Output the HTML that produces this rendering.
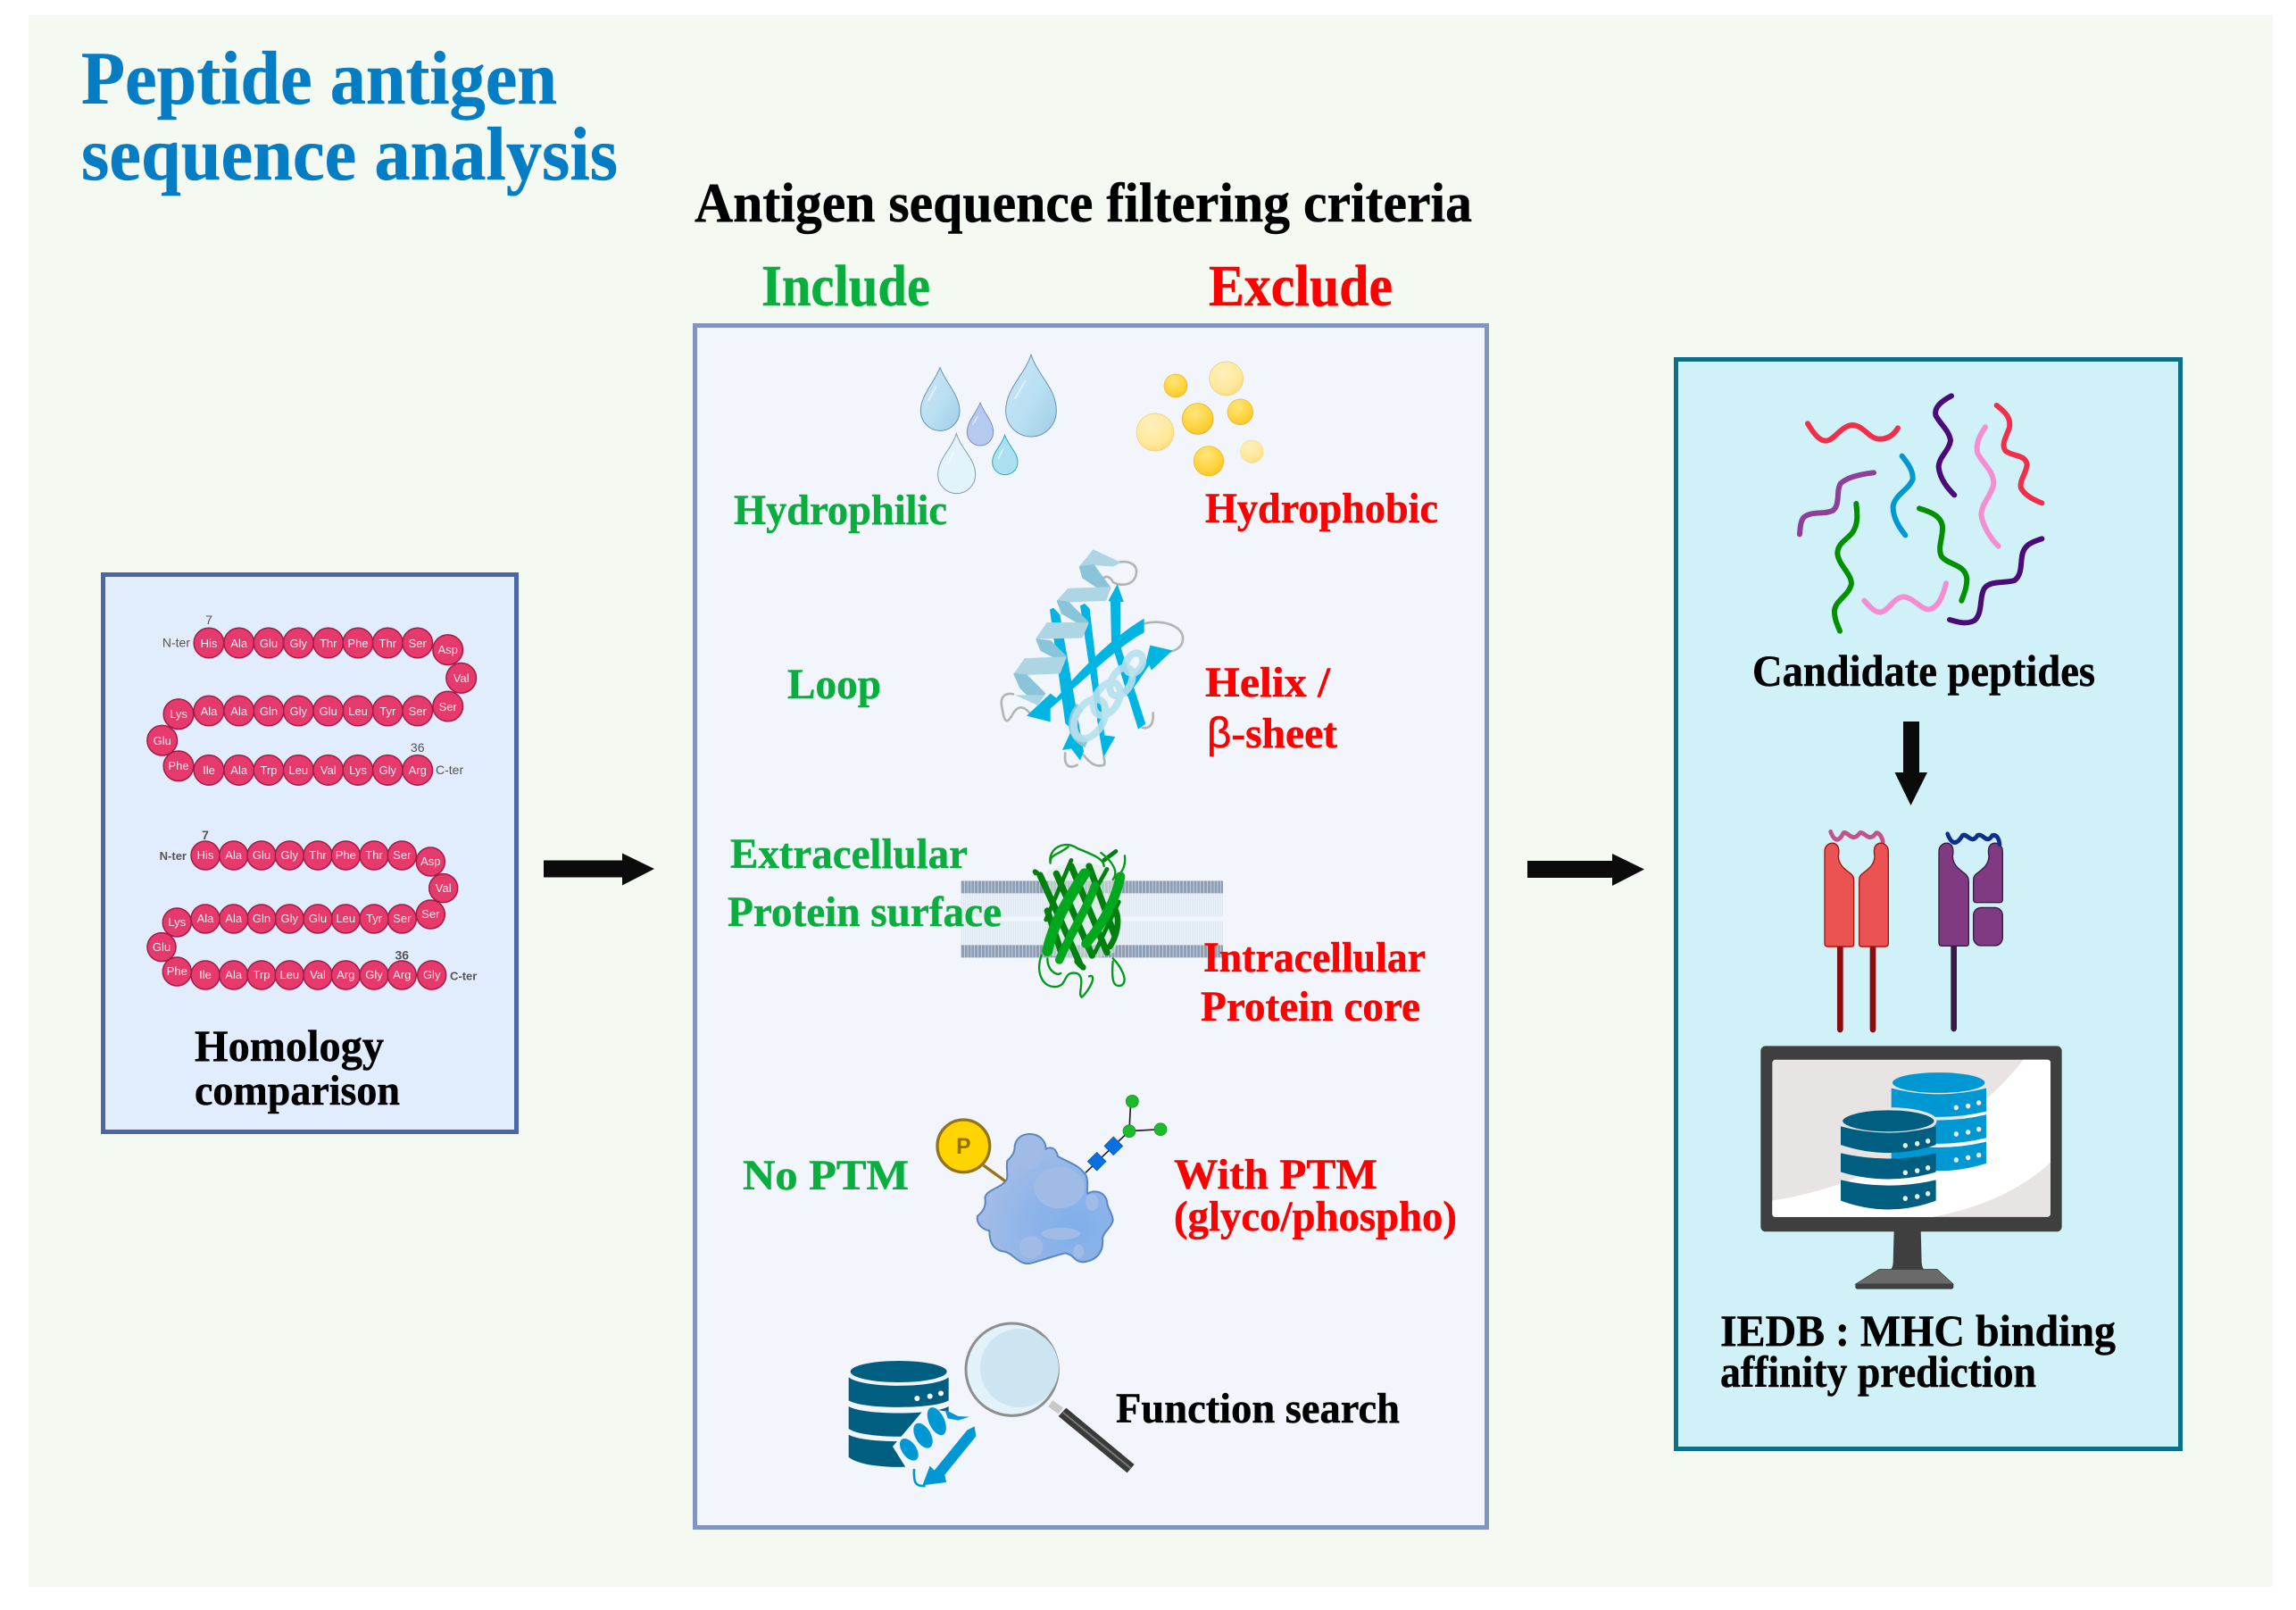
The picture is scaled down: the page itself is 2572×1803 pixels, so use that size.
<!DOCTYPE html>
<html lang="en"><head><meta charset="utf-8"><title>Peptide antigen sequence analysis</title>
<style>
html,body{margin:0;padding:0;background:#fff;width:2572px;height:1803px;overflow:hidden}
svg{display:block}
.t{font-family:"Liberation Serif",serif;font-weight:700;stroke-width:.5}
.g{fill:#0aae3f;stroke:#0aae3f}.r{fill:#ff0000;stroke:#ff0000}.k{fill:#000;stroke:#000}.b{fill:#057dc5;stroke:#057dc5}
.a text{font-family:"Liberation Sans",sans-serif;font-size:13px;fill:#fdeaf0;text-anchor:middle}
.a circle{fill:#e73a6c;stroke:#a11c47;stroke-width:1.5}
.n{font-family:"Liberation Sans",sans-serif;font-size:14px;fill:#555}
.p path{fill:none;stroke-width:18;stroke-linecap:round;stroke-linejoin:round}
</style></head><body>
<svg xmlns="http://www.w3.org/2000/svg" width="2572" height="1803" viewBox="0 0 2572 1803">
<defs>
<radialGradient id="ya" cx=".4" cy=".3" r=".75"><stop offset="0" stop-color="#ffe77e"/><stop offset=".6" stop-color="#ffd53f"/><stop offset="1" stop-color="#f7c525"/></radialGradient>
<radialGradient id="yb" cx=".4" cy=".3" r=".75"><stop offset="0" stop-color="#fff0bb"/><stop offset=".7" stop-color="#fde89a"/><stop offset="1" stop-color="#f8db80"/></radialGradient>
<linearGradient id="d1" x1="0" y1="0" x2="1" y2="1"><stop offset="0" stop-color="#c9e6f5"/><stop offset=".55" stop-color="#b9dff2"/><stop offset="1" stop-color="#9fcde6"/></linearGradient>
<radialGradient id="bl" cx=".72" cy=".72" r=".65"><stop offset="0" stop-color="#7fafea"/><stop offset=".55" stop-color="#8fb4e9"/><stop offset="1" stop-color="#a0bbe6"/></radialGradient>
</defs>
<rect width="2572" height="1803" fill="#fff"/>
<rect x="32" y="17" width="2514" height="1760" fill="#f4f9f2"/>

<rect x="115.5" y="643.5" width="463" height="624" fill="#e1ecfd" stroke="#4a65a8" stroke-width="5"/>
<rect x="778.5" y="364.5" width="887" height="1346" fill="#f2f6fc" stroke="#8295bf" stroke-width="5"/>
<rect x="1877.5" y="402.5" width="565" height="1220" fill="#cff1f7" stroke="#0b6f88" stroke-width="5"/>

<text class="t b" x="91" y="116" font-size="85" textLength="533" lengthAdjust="spacingAndGlyphs">Peptide antigen</text>
<text class="t b" x="91" y="201" font-size="85" textLength="601" lengthAdjust="spacingAndGlyphs">sequence analysis</text>
<text class="t k" x="778" y="248" font-size="62" textLength="871" lengthAdjust="spacingAndGlyphs">Antigen sequence filtering criteria</text>
<text class="t g" x="853" y="342" font-size="66" textLength="189" lengthAdjust="spacingAndGlyphs">Include</text>
<text class="t r" x="1354" y="342" font-size="66" textLength="206" lengthAdjust="spacingAndGlyphs">Exclude</text>

<!-- arrows -->
<path d="M609 963.5H697V955.5L733 973L697 991.5V982.5H609Z" fill="#0b0b0b"/>
<path d="M1711 964H1806V956L1842 973.5L1806 992V983H1711Z" fill="#0b0b0b"/>
<path d="M2132 808H2150V865H2159L2140.5 902L2122.500 865H2132Z" fill="#0b0b0b"/>

<!-- peptide chain 1 -->
<g class="a">
<circle cx="234" cy="720" r="16.8"/><circle cx="267.700" cy="720" r="16.8"/><circle cx="301" cy="720" r="16.8"/><circle cx="334.300" cy="720" r="16.8"/><circle cx="367.700" cy="720" r="16.8"/><circle cx="401" cy="720" r="16.8"/><circle cx="434.300" cy="720" r="16.8"/><circle cx="467.700" cy="720" r="16.8"/>
<circle cx="501.700" cy="727.700" r="16.8"/><circle cx="516.700" cy="759.300" r="16.8"/><circle cx="501.700" cy="791" r="16.8"/>
<circle cx="467.700" cy="796" r="16.8"/><circle cx="434.300" cy="796" r="16.8"/><circle cx="401" cy="796" r="16.8"/><circle cx="367.700" cy="796" r="16.8"/><circle cx="334.300" cy="796" r="16.8"/><circle cx="301" cy="796" r="16.8"/><circle cx="267.700" cy="796" r="16.8"/><circle cx="234" cy="796" r="16.8"/>
<circle cx="200" cy="799.700" r="16.8"/><circle cx="181.700" cy="829.200" r="16.8"/><circle cx="200" cy="857.800" r="16.8"/>
<circle cx="234" cy="862.400" r="16.8"/><circle cx="267.700" cy="862.400" r="16.8"/><circle cx="301" cy="862.400" r="16.8"/><circle cx="334.300" cy="862.400" r="16.8"/><circle cx="367.700" cy="862.400" r="16.8"/><circle cx="401" cy="862.400" r="16.8"/><circle cx="434.300" cy="862.400" r="16.8"/><circle cx="467.700" cy="862.400" r="16.8"/>
<text x="234" y="725">His</text><text x="267.700" y="725">Ala</text><text x="301" y="725">Glu</text><text x="334.300" y="725">Gly</text><text x="367.700" y="725">Thr</text><text x="401" y="725">Phe</text><text x="434.300" y="725">Thr</text><text x="467.700" y="725">Ser</text>
<text x="501.700" y="732">Asp</text><text x="516.700" y="764">Val</text><text x="501.700" y="796">Ser</text>
<text x="467.700" y="801">Ser</text><text x="434.300" y="801">Tyr</text><text x="401" y="801">Leu</text><text x="367.700" y="801">Glu</text><text x="334.300" y="801">Gly</text><text x="301" y="801">Gln</text><text x="267.700" y="801">Ala</text><text x="234" y="801">Ala</text>
<text x="200" y="804">Lys</text><text x="181.700" y="834">Glu</text><text x="200" y="862">Phe</text>
<text x="234" y="867">Ile</text><text x="267.700" y="867">Ala</text><text x="301" y="867">Trp</text><text x="334.300" y="867">Leu</text><text x="367.700" y="867">Val</text><text x="401" y="867">Lys</text><text x="434.300" y="867">Gly</text><text x="467.700" y="867">Arg</text>
</g>
<text class="n" x="234" y="699" text-anchor="middle">7</text>
<text class="n" x="467.700" y="842" text-anchor="middle">36</text>
<text class="n" x="213" y="724.500" text-anchor="end">N-ter</text>
<text class="n" x="488" y="867">C-ter</text>

<!-- peptide chain 2 -->
<g class="a">
<circle cx="230" cy="958" r="16"/><circle cx="261.700" cy="958" r="16"/><circle cx="293" cy="958" r="16"/><circle cx="324.300" cy="958" r="16"/><circle cx="356" cy="958" r="16"/><circle cx="387.300" cy="958" r="16"/><circle cx="419" cy="958" r="16"/><circle cx="450.300" cy="958" r="16"/>
<circle cx="482.300" cy="965" r="16"/><circle cx="496.700" cy="994.600" r="16"/><circle cx="482.300" cy="1024" r="16"/>
<circle cx="450.300" cy="1029" r="16"/><circle cx="419" cy="1029" r="16"/><circle cx="387.300" cy="1029" r="16"/><circle cx="356" cy="1029" r="16"/><circle cx="324.300" cy="1029" r="16"/><circle cx="293" cy="1029" r="16"/><circle cx="261.700" cy="1029" r="16"/><circle cx="230" cy="1029" r="16"/>
<circle cx="198.300" cy="1033" r="16"/><circle cx="181" cy="1060.600" r="16"/><circle cx="198.300" cy="1088" r="16"/>
<circle cx="230" cy="1092" r="16"/><circle cx="261.700" cy="1092" r="16"/><circle cx="293" cy="1092" r="16"/><circle cx="324.300" cy="1092" r="16"/><circle cx="356" cy="1092" r="16"/><circle cx="387.300" cy="1092" r="16"/><circle cx="419" cy="1092" r="16"/><circle cx="450.300" cy="1092" r="16"/><circle cx="483.700" cy="1092" r="16"/>
<text x="230" y="962">His</text><text x="261.700" y="962">Ala</text><text x="293" y="962">Glu</text><text x="324.300" y="962">Gly</text><text x="356" y="962">Thr</text><text x="387.300" y="962">Phe</text><text x="419" y="962">Thr</text><text x="450.300" y="962">Ser</text>
<text x="482.300" y="969">Asp</text><text x="496.700" y="999">Val</text><text x="482.300" y="1028">Ser</text>
<text x="450.300" y="1033">Ser</text><text x="419" y="1033">Tyr</text><text x="387.300" y="1033">Leu</text><text x="356" y="1033">Glu</text><text x="324.300" y="1033">Gly</text><text x="293" y="1033">Gln</text><text x="261.700" y="1033">Ala</text><text x="230" y="1033">Ala</text>
<text x="198.300" y="1037">Lys</text><text x="181" y="1065">Glu</text><text x="198.300" y="1092">Phe</text>
<text x="230" y="1096">Ile</text><text x="261.700" y="1096">Ala</text><text x="293" y="1096">Trp</text><text x="324.300" y="1096">Leu</text><text x="356" y="1096">Val</text><text x="387.300" y="1096">Arg</text><text x="419" y="1096">Gly</text><text x="450.300" y="1096">Arg</text><text x="483.700" y="1096">Gly</text>
</g>
<text class="n" x="230" y="940" text-anchor="middle" font-weight="700" fill="#444">7</text>
<text class="n" x="450.300" y="1074.500" text-anchor="middle" font-weight="700" fill="#444">36</text>
<text class="n" x="209" y="963" text-anchor="end" font-weight="700" style="font-size:13px" fill="#444">N-ter</text>
<text class="n" x="504" y="1097.700" font-weight="700" style="font-size:13px" fill="#444">C-ter</text>

<text class="t k" x="218" y="1188" font-size="50" textLength="212" lengthAdjust="spacingAndGlyphs">Homology</text>
<text class="t k" x="218" y="1237" font-size="48" textLength="230" lengthAdjust="spacingAndGlyphs">comparison</text>

<!-- droplets, oil, structure -->
<g transform="translate(980,370) scale(.33333)">
<g stroke-width="3">
<path d="M219 125C240 178 285 218 285 270A65.500 67 0 0 1 154 270C154 218 198 178 219 125Z" fill="url(#d1)" stroke="#6a94ad"/>
<path d="M525 82C550 155 610 195 610 270A85 87 0 0 1 440 270C440 195 500 155 525 82Z" fill="url(#d1)" stroke="#6d92b3"/>
<path d="M354 243C368 280 398 305 398 342A44 45 0 0 1 310 342C310 305 340 280 354 243Z" fill="#b6c9ee" stroke="#7d8fc1"/>
<path d="M274 347C290 400 338 430 338 485A63 63 0 0 1 212 485C212 430 258 400 274 347Z" fill="#e2f3fb" stroke="#7e9fae"/>
<path d="M437 352C450 390 480 410 480 443A42.500 42 0 0 1 395 443C395 410 424 390 437 352Z" fill="#abe0f0" stroke="#22a8c8"/>
</g>
<g fill="none" stroke="#fff" stroke-opacity=".6" stroke-width="5" stroke-linecap="round"><path d="M205 190L180 235M505 170L472 228M345 290L330 315M265 410L245 450M430 400L415 430"/></g>
<g stroke-width="2">
<circle cx="942" cy="342" r="63" fill="url(#yb)" stroke="#eccd70"/><circle cx="1181" cy="162" r="57" fill="url(#yb)" stroke="#eccd70"/><circle cx="1267" cy="407" r="38" fill="url(#yb)" stroke="#f0dc98"/>
<circle cx="1011" cy="186" r="39" fill="url(#ya)" stroke="#e7b52b"/><circle cx="1085" cy="297" r="52" fill="url(#ya)" stroke="#d8a92a"/><circle cx="1228" cy="274" r="43" fill="url(#ya)" stroke="#e7b52b"/><circle cx="1122" cy="439" r="50" fill="url(#ya)" stroke="#e7b52b"/>
</g>
<g fill="none" stroke="#b4b4b4" stroke-width="8" stroke-linecap="round">
<path d="M815 780C860 770 885 790 878 820C870 860 820 860 800 845C790 825 775 825 770 832"/>
<path d="M905 985C960 970 1030 990 1035 1030C1038 1060 1015 1075 990 1080"/>
<path d="M465 1222C430 1215 420 1240 428 1270C435 1320 445 1320 460 1295C475 1265 495 1255 520 1285"/>
<path d="M640 1420C635 1460 650 1475 680 1460M700 1425C720 1450 740 1470 770 1460C775 1450 770 1440 770 1435M900 1335C925 1340 938 1320 935 1285"/>
</g>
<g fill="#00b5e2">
<path d="M588 938L600 932L622 955L702 1415L690 1445L660 1405L630 1410L662 1340L640 1320Z"/>
<path d="M690 925L705 918L722 935L772 1360L808 1365L768 1435L755 1360Z"/>
<path d="M792 912L785 908L815 852L836 912L825 912L825 1060L910 1322L885 1340L795 1050Z"/>
</g>
<g stroke-width="7" stroke-linejoin="round">
<path d="M690 795L735 740L820 780L800 790L730 785L700 795Z" fill="#add5e3" stroke="#add5e3"/>
<path d="M690 795L735 790L790 865L760 870L700 830Z" fill="#8ac4d8" stroke="#8ac4d8"/>
<path d="M615 910L650 870L790 865L775 905L650 910Z" fill="#add5e3" stroke="#add5e3"/>
<path d="M615 910L650 915L715 980L690 985L630 950Z" fill="#8ac4d8" stroke="#8ac4d8"/>
<path d="M545 1035L580 985L715 985L695 1030L560 1033Z" fill="#add5e3" stroke="#add5e3"/>
<path d="M545 1040L590 1045L640 1095L620 1105L560 1075Z" fill="#8ac4d8" stroke="#8ac4d8"/>
<path d="M470 1155L505 1105L640 1100L620 1150L490 1155Z" fill="#add5e3" stroke="#add5e3"/>
<path d="M470 1155L510 1160L570 1220L545 1255L490 1200Z" fill="#8ac4d8" stroke="#8ac4d8"/>
<path d="M470 1225L570 1225L545 1258Z" fill="#add5e3"/>
</g>
<path d="M905 968V1015C820 1060 720 1160 590 1270V1315L510 1295L590 1220L610 1235C700 1130 800 1030 905 968Z" fill="#00b5e2"/>
<path d="M830 1210L912 1110L925 1058L1000 1075L930 1142L922 1125L850 1230Z" fill="#00b5e2"/>
<path d="M690 1265C655 1300 655 1365 712 1388" fill="none" stroke="#8ac4d8" stroke-width="30"/>
<g fill="none" stroke="#b6e0ee" stroke-width="24" opacity=".9">
<ellipse cx="722" cy="1305" rx="46" ry="72" transform="rotate(30 722 1305)"/>
<ellipse cx="780" cy="1238" rx="38" ry="60" transform="rotate(30 780 1238)"/>
<ellipse cx="828" cy="1180" rx="32" ry="52" transform="rotate(30 828 1180)"/>
<ellipse cx="872" cy="1118" rx="26" ry="36" transform="rotate(30 872 1118)"/>
</g>
</g>

<text class="t g" x="822" y="587" font-size="48" textLength="239" lengthAdjust="spacingAndGlyphs">Hydrophilic</text>
<text class="t r" x="1350" y="585" font-size="48" textLength="261" lengthAdjust="spacingAndGlyphs">Hydrophobic</text>
<text class="t g" x="882" y="782" font-size="48" textLength="105" lengthAdjust="spacingAndGlyphs">Loop</text>
<text class="t r" x="1350" y="780" font-size="48" textLength="140" lengthAdjust="spacingAndGlyphs">Helix /</text>
<text class="t r" x="1352" y="837" font-size="48" textLength="146" lengthAdjust="spacingAndGlyphs"><tspan font-family="Liberation Sans" font-weight="400">β</tspan>-sheet</text>

<!-- membrane + barrel, blob -->
<g transform="translate(1040,920) scale(.33333)">
<line x1="110" y1="280" x2="990" y2="280" stroke="#d6e4f3" stroke-width="80" stroke-dasharray="3 3"/>
<line x1="110" y1="375" x2="990" y2="375" stroke="#d6e4f3" stroke-width="80" stroke-dasharray="3 3"/>
<line x1="110" y1="220" x2="990" y2="220" stroke="#8e9fb5" stroke-width="42" stroke-dasharray="10 1.500"/>
<line x1="110" y1="436" x2="990" y2="436" stroke="#8e9fb5" stroke-width="42" stroke-dasharray="10 1.500"/>
<g fill="none" stroke-linecap="round">
<path d="M395 170C420 260 380 360 385 440C460 470 560 470 625 440C650 370 610 270 640 170C560 130 460 130 395 170Z" fill="#dcebdc" fill-opacity=".55" stroke="none"/>
<g stroke="#00800f" stroke-width="22">
<path d="M375 180L430 300L510 480"/><path d="M430 175L550 450"/><path d="M480 150L600 440"/><path d="M540 150L625 380"/><path d="M400 300L450 450"/>
<path d="M395 330L480 130M450 430L600 160M560 440L640 270" stroke-width="14"/>
<path d="M360 175C350 165 360 160 372 180" stroke-width="12"/>
<path d="M590 130L630 100" stroke-width="14"/>
</g>
<g stroke="#009a15" stroke-width="7">
<path d="M410 140C400 90 460 60 500 90C550 110 590 125 590 150M470 85C440 110 410 110 410 135M580 105C620 135 640 170 620 195M660 115C665 160 640 180 630 190"/>
<path d="M380 450C360 500 380 560 430 555C470 550 450 500 500 510C530 525 500 580 515 590C540 570 570 510 540 520M620 470C615 530 620 560 650 550C675 530 640 480 620 460M400 460C400 500 430 520 445 510"/>
</g>
<g stroke="#00a81e" stroke-width="36">
<path d="M400 435C420 340 470 260 525 175"/>
<path d="M440 465C480 370 530 300 560 215" stroke-width="28"/>
<path d="M530 410C590 340 630 260 645 185" stroke-width="32"/>
</g>
<g stroke="#00800f" stroke-width="20"><path d="M630 300C645 340 630 390 610 420M500 470L520 490"/></g>
</g>
<path d="M340 1050C375 1050 395 1075 395 1100C415 1090 430 1100 435 1125C470 1145 510 1155 530 1190C540 1215 530 1240 535 1250C555 1238 590 1240 600 1275C600 1300 620 1315 620 1340C615 1365 590 1375 585 1400C590 1440 570 1475 520 1480C490 1480 490 1455 460 1450C420 1460 380 1475 340 1485C300 1488 285 1450 255 1445C215 1440 205 1410 205 1375C180 1370 160 1350 165 1325C185 1310 195 1290 190 1265C195 1235 240 1235 262 1205C270 1190 260 1165 265 1140C285 1120 290 1110 290 1090C295 1060 320 1050 340 1050Z" fill="url(#bl)" stroke="#5a86c2" stroke-width="6"/>
<g fill="#a0bbe6">
<ellipse cx="440" cy="1230" rx="85" ry="70"/><ellipse cx="345" cy="1430" rx="40" ry="38"/><ellipse cx="445" cy="1385" rx="65" ry="20"/><ellipse cx="550" cy="1280" rx="22" ry="28"/><ellipse cx="505" cy="1445" rx="18" ry="24"/><ellipse cx="340" cy="1120" rx="40" ry="48"/>
</g>
<line x1="185" y1="1155" x2="258" y2="1208" stroke="#94741a" stroke-width="10"/>
<circle cx="118" cy="1090" r="88" fill="#ffd400" stroke="#94741a" stroke-width="10"/>
<text x="118" y="1116" text-anchor="middle" font-family="Liberation Sans" font-weight="700" font-size="74" fill="#8f7000">P</text>
<path d="M528 1180L675 1040L680 940M675 1040L780 1034" stroke="#222" stroke-width="5" fill="none"/>
<rect x="544" y="1120" width="44" height="44" fill="#0a6fe0" stroke="#0c4f9e" stroke-width="2" transform="rotate(45 566 1142)"/>
<rect x="600" y="1068" width="44" height="44" fill="#0a6fe0" stroke="#0c4f9e" stroke-width="2" transform="rotate(45 622 1090)"/>
<circle cx="685" cy="940" r="21" fill="#1dbb2c" stroke="#128a1e" stroke-width="2"/><circle cx="675" cy="1040" r="21" fill="#1dbb2c" stroke="#128a1e" stroke-width="2"/><circle cx="780" cy="1034" r="21" fill="#1dbb2c" stroke="#128a1e" stroke-width="2"/>
</g>

<text class="t g" x="818" y="972" font-size="48" textLength="266" lengthAdjust="spacingAndGlyphs">Extracellular</text>
<text class="t g" x="815" y="1037" font-size="48" textLength="307" lengthAdjust="spacingAndGlyphs">Protein surface</text>
<text class="t r" x="1348" y="1088" font-size="48" textLength="249" lengthAdjust="spacingAndGlyphs">Intracellular</text>
<text class="t r" x="1345" y="1143" font-size="48" textLength="246" lengthAdjust="spacingAndGlyphs">Protein core</text>
<text class="t g" x="832" y="1332" font-size="48" textLength="186" lengthAdjust="spacingAndGlyphs">No PTM</text>
<text class="t r" x="1315" y="1331" font-size="48" textLength="228" lengthAdjust="spacingAndGlyphs">With PTM</text>
<text class="t r" x="1315" y="1378" font-size="48" textLength="317" lengthAdjust="spacingAndGlyphs">(glyco/phospho)</text>

<!-- database + magnifier -->
<g transform="translate(930,1460) scale(.33333)">
<ellipse cx="230" cy="228" rx="162" ry="36" fill="#005f80"/>
<path d="M62 247C110 285 350 285 398 247V325C350 355 110 355 62 325Z" fill="#005f80"/>
<path d="M62 345C110 375 350 375 398 345V420C350 455 110 455 62 420Z" fill="#005f80"/>
<path d="M62 440C110 470 350 470 398 440V515C350 560 110 560 62 515Z" fill="#005f80"/>
<circle cx="292" cy="318" r="9" fill="#fff"/><circle cx="335" cy="311" r="9" fill="#fff"/><circle cx="372" cy="301" r="9" fill="#fff"/>
<path d="M210 480L320 350L440 370L500 400L470 490L380 610L280 620L260 560Z" fill="#f2f6fc"/>
<g fill="#0098d4">
<ellipse cx="265" cy="490" rx="24" ry="42" transform="rotate(-35 265 490)"/>
<ellipse cx="312" cy="443" rx="26" ry="46" transform="rotate(-30 312 443)"/>
<ellipse cx="358" cy="395" rx="26" ry="50" transform="rotate(-25 358 395)"/>
<path d="M385 355L430 378L468 380L430 392L395 385Z"/>
<path d="M460 425L485 412L490 445L385 575L390 600L310 610L335 545L350 560Z"/>
</g>
<path d="M282 555C280 600 285 615 320 612" fill="none" stroke="#0098d4" stroke-width="8"/>
<path d="M740 335L775 360" stroke="#c9c9c9" stroke-width="26"/>
<path d="M767 378L793 350L1022 540L998 568Z" fill="#3a3a3a"/>
<path d="M782 365L1010 553" stroke="#777" stroke-width="6"/>
<circle cx="611" cy="221" r="155" fill="#e2f2fb" stroke="#8e8e8e" stroke-width="9"/>
<circle cx="636" cy="216" r="132" fill="#cde5f0"/>
</g>
<text class="t k" x="1250" y="1593" font-size="48" textLength="318" lengthAdjust="spacingAndGlyphs">Function search</text>

<!-- candidate peptides -->
<g class="p" transform="translate(1960,420) scale(.33333)">
<path stroke="#f0304a" d="M195 163C220 205 240 225 262 220C285 215 310 170 345 168C385 170 400 215 438 215C465 215 485 200 498 178"/>
<path stroke="#4a0a78" d="M678 70C640 90 620 110 625 135C640 165 670 185 675 220C670 255 635 275 635 310C640 350 665 380 688 403"/>
<path stroke="#f58ed0" d="M792 175C775 200 760 225 765 260C780 295 820 320 820 365C815 400 780 430 778 470C785 510 810 550 836 575"/>
<path stroke="#f0304a" d="M830 102C860 125 880 145 872 180C860 210 845 235 860 255C885 275 925 265 932 300C930 330 905 355 912 380C925 405 955 420 982 430"/>
<path stroke="#0098d0" d="M512 272C530 295 550 320 548 350C535 385 490 400 482 440C480 480 505 515 523 538"/>
<path stroke="#8e3f98" d="M417 328C385 332 330 340 305 365C290 390 305 435 280 455C250 470 205 455 180 480C170 495 170 515 168 535"/>
<path stroke="#009000" d="M358 432C362 470 365 500 345 530C325 555 295 565 295 600C300 640 340 665 342 700C335 740 290 755 285 790C283 815 295 840 303 860"/>
<path stroke="#009000" d="M570 448C610 460 645 475 648 510C650 545 630 580 645 610C670 640 725 635 730 685C730 715 720 735 712 758"/>
<path stroke="#f58ed0" d="M385 758C400 775 420 798 440 797C470 790 485 745 518 745C555 750 575 790 605 787C635 780 650 740 660 700"/>
<path stroke="#4a0a78" d="M982 550C950 560 920 570 915 610C910 640 915 670 890 690C860 700 810 690 790 715C770 745 785 800 755 825C725 840 695 828 672 822"/>
</g>
<text class="t k" x="1963" y="768" font-size="50" textLength="384" lengthAdjust="spacingAndGlyphs">Candidate peptides</text>

<!-- MHC + monitor -->
<g transform="translate(1960,900) scale(.33333,.35714)">
<g stroke-linecap="round" stroke-width="20">
<path d="M304 448V708M414 448V708" stroke="#8a0c0c"/>
<path d="M686 445V705" stroke="#3a1a45"/>
</g>
<path d="M272 88C285 120 300 120 315 92C330 85 345 125 370 92C385 85 400 125 425 92C435 90 445 105 448 120" fill="none" stroke="#c5508a" stroke-width="14" stroke-linecap="round"/>
<g fill="#eb5252" stroke="#a5140f" stroke-width="4">
<path d="M252 150C252 130 270 122 282 124C300 128 302 145 298 165C300 195 320 205 340 220C350 228 350 235 350 245V440Q350 448 342 448H262Q252 448 252 438Z"/>
<path d="M466 150C466 130 448 122 436 124C418 128 416 145 420 165C418 195 398 205 378 220C368 228 368 235 368 245V440Q368 448 376 448H456Q466 448 466 438Z"/>
</g>
<g fill="#7f3a82" stroke="#3d1a44" stroke-width="4">
<path d="M636 150C636 130 654 122 666 124C684 128 686 145 682 165C684 195 704 205 724 220C734 228 736 235 736 245V438Q736 446 728 446H646Q636 446 636 436Z"/>
<path d="M850 150C850 130 832 122 820 124C802 128 800 145 804 165C802 195 782 205 762 220C752 228 752 235 752 245V300Q752 310 762 310H840Q850 310 850 300Z"/>
<rect x="752" y="326" width="98" height="119" rx="25"/>
</g>
<path d="M665 95C680 130 695 130 715 100C730 90 745 130 765 100C785 90 795 130 815 100C830 95 838 110 840 128" fill="none" stroke="#0a2f8c" stroke-width="14" stroke-linecap="round"/>

<path d="M485 1335H575L578 1440Q580 1460 590 1462H470Q480 1460 482 1440Z" fill="#3f3f3f"/>
<path d="M435 1460H630L685 1507H355Z" fill="#6a6a6a" stroke="#333" stroke-width="2"/>
<rect x="355" y="1505" width="330" height="17" rx="7" fill="#3f3f3f"/>
<rect x="37" y="760" width="1012" height="582" rx="16" fill="#3f3f3f"/>
<rect x="76" y="803" width="935" height="493" rx="10" fill="#e9e4e4"/>
<path d="M920 803H1001Q1011 803 1011 813V1125C900 1220 760 1270 615 1296H86Q76 1296 76 1286V1245C400 1200 750 1010 920 803Z" fill="#fff"/>
<ellipse cx="635" cy="875" rx="155" ry="32" fill="#0098d2"/>
<path d="M476 892Q635 930 795 892V965Q635 1000 476 965Z" fill="#0098d2"/>
<path d="M476 975Q635 1010 795 975V1048Q635 1085 476 1048Z" fill="#0098d2"/>
<path d="M476 1060Q635 1095 795 1060V1128Q635 1175 476 1128Z" fill="#0098d2"/>
<g fill="#eee"><circle cx="694" cy="953" r="8"/><circle cx="734" cy="948" r="8"/><circle cx="770" cy="938" r="8"/><circle cx="694" cy="1036" r="8"/><circle cx="734" cy="1030" r="8"/><circle cx="770" cy="1021" r="8"/><circle cx="694" cy="1117" r="8"/><circle cx="734" cy="1110" r="8"/><circle cx="770" cy="1102" r="8"/></g>
<ellipse cx="466" cy="995" rx="158" ry="38" fill="#005f80" stroke="#e9e4e4" stroke-width="9"/>
<path d="M306 1012Q466 1052 626 1012V1070Q466 1120 306 1070Z" fill="#005f80"/>
<path d="M306 1096Q466 1130 626 1096V1155Q466 1200 306 1155Z" fill="#005f80"/>
<path d="M306 1180Q466 1215 626 1180V1245Q466 1300 306 1245Z" fill="#005f80"/>
<g fill="#eee"><circle cx="523" cy="1072" r="8"/><circle cx="563" cy="1066" r="8"/><circle cx="599" cy="1058" r="8"/><circle cx="523" cy="1157" r="8"/><circle cx="563" cy="1151" r="8"/><circle cx="599" cy="1142" r="8"/><circle cx="523" cy="1238" r="8"/><circle cx="563" cy="1232" r="8"/><circle cx="599" cy="1223" r="8"/></g>
</g>
<text class="t k" x="1927" y="1507" font-size="50" textLength="443" lengthAdjust="spacingAndGlyphs">IEDB : MHC binding</text>
<text class="t k" x="1927" y="1553" font-size="50" textLength="354" lengthAdjust="spacingAndGlyphs">affinity prediction</text>
</svg>
</body></html>
